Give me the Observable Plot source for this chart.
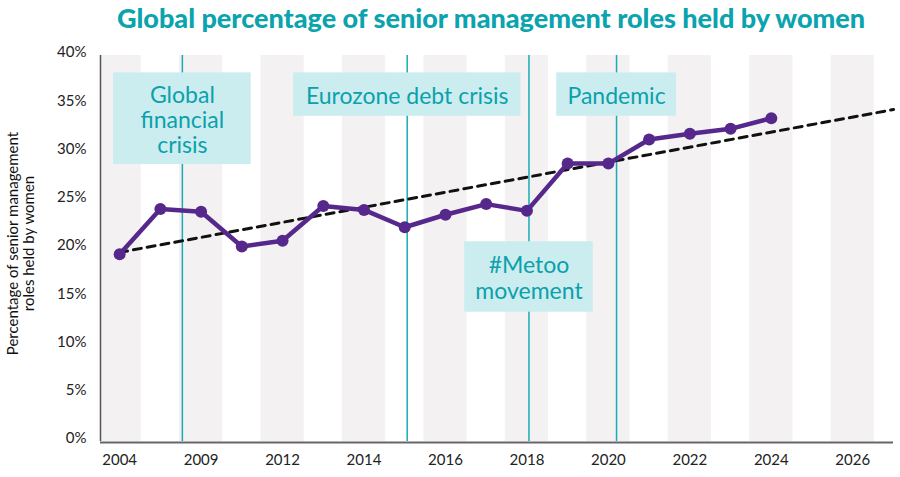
<!DOCTYPE html>
<html><head><meta charset="utf-8">
<script src="https://cdn.jsdelivr.net/npm/d3@7"></script>
<script src="https://cdn.jsdelivr.net/npm/@observablehq/plot@0.6"></script>
<style>
body{margin:0;background:#fff;}
#wrap{position:relative;width:900px;height:477px;font-family:Lato, "Open Sans", sans-serif;}
#title{position:absolute;left:0;top:2px;width:900px;padding-left:82px;box-sizing:border-box;text-align:center;font-weight:900;font-size:27px;line-height:32px;color:#0aa3ae;}
#chart svg{display:block;}
</style></head><body>
<div id="wrap"><div id="chart"></div><div id="title">Global percentage of senior management roles held by women</div></div>
<script>
// Categories (evenly spaced on the axis, by index)
const years = ["2004","2007","2009","2011","2012","2013","2014","2015","2016","2017","2018","2019","2020","2021","2022","2023","2024","2025","2026"];
// Share of senior management roles held by women (%)
const shares = [19.4, 24.1, 23.8, 20.2, 20.8, 24.4, 24.0, 22.2, 23.5, 24.6, 23.9, 28.8, 28.8, 31.3, 31.9, 32.4, 33.5];
// Trend line end points (index, %)
const trendIndex = [0, 19];
const trendValues = [19.6, 34.4];
// Events (position on the index axis)
const eventNames = ["Global\nfinancial\ncrisis", "Eurozone debt crisis", "#Metoo\nmovement", "Pandemic"];
const eventAt = [1.54, 7.06, 10.05, 12.2];
// Tick labels shown
const tickIdx = [0, 2, 4, 6, 8, 10, 12, 14, 16, 18];
const yTicks = [0, 5, 10, 15, 20, 25, 30, 35, 40];
const yTitle = "Percentage of senior management\nroles held by women";

// layout for annotation boxes (not data)
const boxLayout = [
  {halfWidth: 1.69, top: 38.2, bottom: 28.7},
  {halfWidth: 2.79, top: 38.2, bottom: 33.7},
  {halfWidth: 1.58, top: 20.7, bottom: 13.4},
  {halfWidth: 1.47, top: 38.2, bottom: 33.7}
];

const series = shares.map((v, i) => ({i, v}));
const trend = trendIndex.map((i, k) => ({i, v: trendValues[k]}));
const events = eventNames.map((name, k) => ({name, at: eventAt[k], ...boxLayout[k]}));
const stripes = tickIdx.map(i => ({i}));

const purple = "#56288c";
const teal = "#1aabb6";
const tealText = "#0aa1ac";

const chart = Plot.plot({
  width: 900,
  height: 477,
  marginLeft: 100,
  marginRight: 7,
  marginTop: 55,
  marginBottom: 36,
  style: {fontFamily: "Lato, 'Open Sans', sans-serif", fontSize: "15px", color: "#222", background: "#fff"},
  x: {type: "linear", domain: [-0.47, 19.0], axis: null},
  y: {domain: [0, 40], axis: null},
  marks: [
    Plot.rect(stripes, {x1: d => d.i - 0.53, x2: d => d.i + 0.53, y1: 0, y2: 40, fill: "#f3f1f1", clip: true}),
    Plot.ruleX(events, {x: "at", y1: 0, y2: 40, stroke: teal, strokeWidth: 1.5}),
    Plot.line(trend, {x: "i", y: "v", stroke: "#111", strokeWidth: 3, strokeDasharray: "8,6"}),
    Plot.line(series, {x: "i", y: "v", stroke: purple, strokeWidth: 4.5, strokeLinejoin: "round"}),
    Plot.dot(series, {x: "i", y: "v", r: 6, fill: purple}),
    Plot.rect(events, {x1: d => d.at - d.halfWidth, x2: d => d.at + d.halfWidth, y1: "bottom", y2: "top", fill: "#ccedf0"}),
    Plot.text(events, {x: "at", y: d => (d.top + d.bottom) / 2, text: "name", fill: tealText, fontSize: 23, lineHeight: 1.1, dy: 1}),
    Plot.axisY(yTicks, {tickSize: 0, tickPadding: 14, tickFormat: d => d + "%", fontSize: 15, dy: -3}),
    Plot.ruleX([-0.47], {y1: 0, y2: 40, stroke: "#555", strokeWidth: 1.5}),
    Plot.ruleY([0], {x1: -0.47, x2: 19.0, stroke: "#666", strokeWidth: 2, dy: 1}),
    Plot.axisX(tickIdx, {tickSize: 0, tickPadding: 13, tickFormat: i => years[i], fontSize: 15}),
    Plot.text([yTitle], {frameAnchor: "left", text: d => d, rotate: -90, textAnchor: "middle", lineAnchor: "middle", dx: -80, dy: -5, fontSize: 15, lineHeight: 1.1, fill: "#111"})
  ]
});
document.getElementById("chart").appendChild(chart);
</script>
</body></html>
